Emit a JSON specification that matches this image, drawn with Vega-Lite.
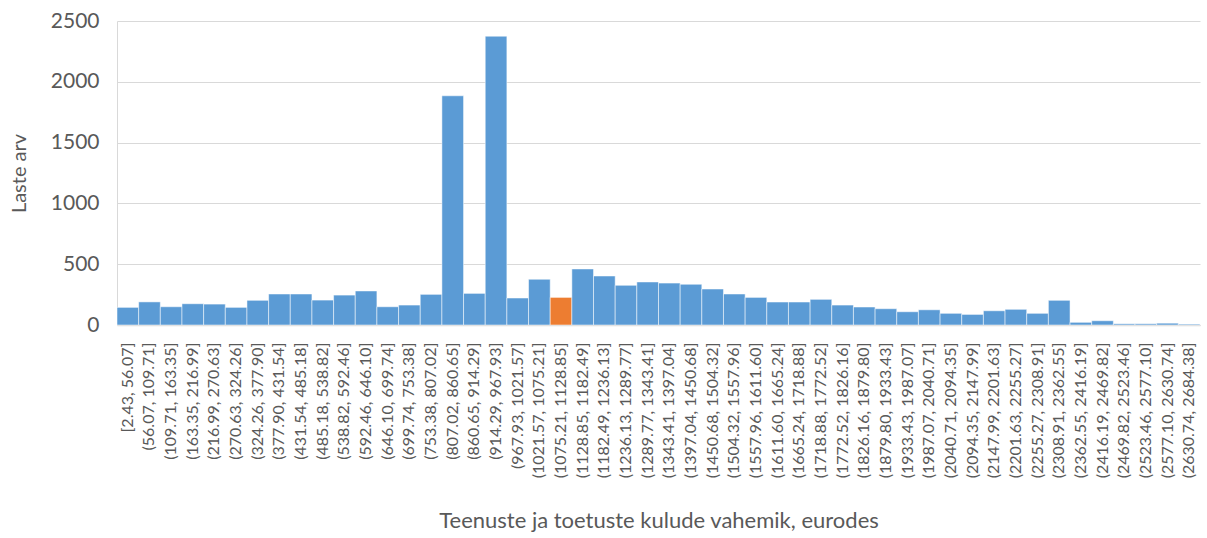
{
  "$schema": "https://vega.github.io/schema/vega-lite/v6.json",
  "width": 1083,
  "height": 304,
  "autosize": {"type": "none"},
  "padding": {"left": 117, "top": 21, "right": 7, "bottom": 213},
  "background": "white",
  "config": {
    "font": "Lato",
    "view": {"stroke": null},
    "axis": {"labelColor": "#595959", "titleColor": "#595959", "titleFontWeight": "normal", "labelFont": "Lato", "titleFont": "Lato"}
  },
  "data": {
    "values": [
      {"bin": "[2.43, 56.07]", "n": 145, "g": "a"},
      {"bin": "(56.07, 109.71]", "n": 190, "g": "a"},
      {"bin": "(109.71, 163.35]", "n": 150, "g": "a"},
      {"bin": "(163.35, 216.99]", "n": 175, "g": "a"},
      {"bin": "(216.99, 270.63]", "n": 172, "g": "a"},
      {"bin": "(270.63, 324.26]", "n": 145, "g": "a"},
      {"bin": "(324.26, 377.90]", "n": 203, "g": "a"},
      {"bin": "(377.90, 431.54]", "n": 255, "g": "a"},
      {"bin": "(431.54, 485.18]", "n": 255, "g": "a"},
      {"bin": "(485.18, 538.82]", "n": 205, "g": "a"},
      {"bin": "(538.82, 592.46]", "n": 246, "g": "a"},
      {"bin": "(592.46, 646.10]", "n": 280, "g": "a"},
      {"bin": "(646.10, 699.74]", "n": 150, "g": "a"},
      {"bin": "(699.74, 753.38]", "n": 164, "g": "a"},
      {"bin": "(753.38, 807.02]", "n": 252, "g": "a"},
      {"bin": "(807.02, 860.65]", "n": 1885, "g": "a"},
      {"bin": "(860.65, 914.29]", "n": 260, "g": "a"},
      {"bin": "(914.29, 967.93]", "n": 2375, "g": "a"},
      {"bin": "(967.93, 1021.57]", "n": 222, "g": "a"},
      {"bin": "(1021.57, 1075.21]", "n": 376, "g": "a"},
      {"bin": "(1075.21, 1128.85]", "n": 227, "g": "b"},
      {"bin": "(1128.85, 1182.49]", "n": 461, "g": "a"},
      {"bin": "(1182.49, 1236.13]", "n": 403, "g": "a"},
      {"bin": "(1236.13, 1289.77]", "n": 326, "g": "a"},
      {"bin": "(1289.77, 1343.41]", "n": 354, "g": "a"},
      {"bin": "(1343.41, 1397.04]", "n": 345, "g": "a"},
      {"bin": "(1397.04, 1450.68]", "n": 335, "g": "a"},
      {"bin": "(1450.68, 1504.32]", "n": 296, "g": "a"},
      {"bin": "(1504.32, 1557.96]", "n": 255, "g": "a"},
      {"bin": "(1557.96, 1611.60]", "n": 227, "g": "a"},
      {"bin": "(1611.60, 1665.24]", "n": 189, "g": "a"},
      {"bin": "(1665.24, 1718.88]", "n": 189, "g": "a"},
      {"bin": "(1718.88, 1772.52]", "n": 211, "g": "a"},
      {"bin": "(1772.52, 1826.16]", "n": 164, "g": "a"},
      {"bin": "(1826.16, 1879.80]", "n": 148, "g": "a"},
      {"bin": "(1879.80, 1933.43]", "n": 134, "g": "a"},
      {"bin": "(1933.43, 1987.07]", "n": 109, "g": "a"},
      {"bin": "(1987.07, 2040.71]", "n": 125, "g": "a"},
      {"bin": "(2040.71, 2094.35]", "n": 96, "g": "a"},
      {"bin": "(2094.35, 2147.99]", "n": 87, "g": "a"},
      {"bin": "(2147.99, 2201.63]", "n": 117, "g": "a"},
      {"bin": "(2201.63, 2255.27]", "n": 129, "g": "a"},
      {"bin": "(2255.27, 2308.91]", "n": 96, "g": "a"},
      {"bin": "(2308.91, 2362.55]", "n": 203, "g": "a"},
      {"bin": "(2362.55, 2416.19]", "n": 22, "g": "a"},
      {"bin": "(2416.19, 2469.82]", "n": 35, "g": "a"},
      {"bin": "(2469.82, 2523.46]", "n": 10, "g": "a"},
      {"bin": "(2523.46, 2577.10]", "n": 10, "g": "a"},
      {"bin": "(2577.10, 2630.74]", "n": 15, "g": "a"},
      {"bin": "(2630.74, 2684.38]", "n": 7, "g": "a"}
    ]
  },
  "mark": {"type": "bar", "stroke": "#ffffff", "strokeWidth": 1, "strokeOpacity": 0.5},
  "encoding": {
    "x": {
      "field": "bin",
      "type": "ordinal",
      "sort": null,
      "scale": {"paddingInner": 0, "paddingOuter": 0},
      "axis": {
        "title": "Teenuste ja toetuste kulude vahemik, eurodes",
        "titleFontSize": 22,
        "titlePadding": 33,
        "labelAngle": -90,
        "labelFontSize": 16,
        "labelPadding": 17,
        "labelOverlap": false,
        "ticks": false,
        "domainColor": "#d9d9d9",
        "domainWidth": 1.5,
        "grid": false
      }
    },
    "y": {
      "field": "n",
      "type": "quantitative",
      "scale": {"domain": [0, 2500], "nice": false},
      "axis": {
        "title": "Laste arv",
        "titleFontSize": 20,
        "titlePadding": 21,
        "format": "d",
        "values": [0, 500, 1000, 1500, 2000, 2500],
        "labelFontSize": 21,
        "labelPadding": 18,
        "ticks": false,
        "domain": true,
        "domainColor": "#d9d9d9",
        "gridColor": "#d9d9d9",
        "gridWidth": 1.2
      }
    },
    "color": {
      "field": "g",
      "type": "nominal",
      "scale": {"domain": ["a", "b"], "range": ["#5b9bd5", "#ed7d31"]},
      "legend": null
    }
  }
}
